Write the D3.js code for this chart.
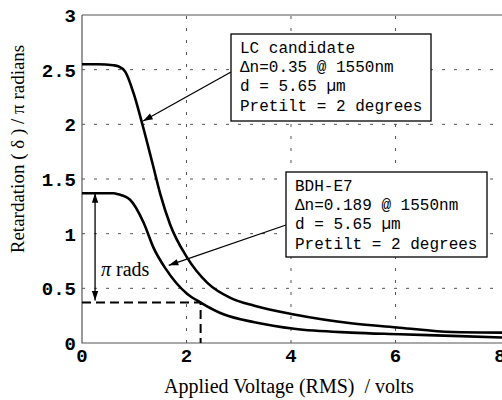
<!DOCTYPE html>
<html>
<head>
<meta charset="utf-8">
<script src="https://cdn.jsdelivr.net/npm/d3@7"></script>
<style>
  body { margin: 0; background: #fff; }
  svg { display: block; }
</style>
</head>
<body>
<svg id="chart" width="502" height="400"></svg>
<script>
'use strict';

// voltage (V rms) vs retardation (units of pi)
var lcVolts = [0, 0.3, 0.6, 0.7, 0.83, 0.99, 1.15, 1.34, 1.5, 1.69, 2.0, 2.4, 2.85, 3.3, 4.06, 5.15, 6.08, 7.08, 8.05];
var lcRetard = [2.55, 2.55, 2.54, 2.53, 2.48, 2.28, 2.01, 1.66, 1.36, 1.08, 0.79, 0.55, 0.41, 0.34, 0.26, 0.18, 0.14, 0.10, 0.095];
var e7Volts = [0, 0.3, 0.6, 0.7, 0.92, 1.18, 1.37, 1.6, 2.01, 2.27, 2.72, 3.3, 4.06, 5.15, 6.08, 7.08, 8.05];
var e7Retard = [1.37, 1.37, 1.37, 1.36, 1.31, 1.10, 0.87, 0.68, 0.45, 0.37, 0.26, 0.19, 0.13, 0.095, 0.08, 0.065, 0.05];

var xTicks = [0, 2, 4, 6, 8];
var yTicks = [0, 0.5, 1, 1.5, 2, 2.5, 3];
var gridX = [2, 4, 6];
var gridY = [0.5, 1, 1.5, 2, 2.5];

var lcLabel = ['LC candidate', '\u0394n=0.35 @ 1550nm', 'd = 5.65 \u00b5m', 'Pretilt = 2 degrees'];
var e7Label = ['BDH-E7', '\u0394n=0.189 @ 1550nm', 'd = 5.65 \u00b5m', 'Pretilt = 2 degrees'];

// pi-rads marker: from E7 plateau down to the point one pi lower
var piTop = 1.37, piBottom = 0.37, piVolt = 2.27;

var svg = d3.select('#chart');
var x = d3.scaleLinear().domain([0, 8]).range([82, 500]);
var y = d3.scaleLinear().domain([0, 3]).range([343, 15]);

var defs = svg.append('defs');
defs.append('marker')
  .attr('id', 'head')
  .attr('viewBox', '0 0 12 10')
  .attr('refX', 12).attr('refY', 5)
  .attr('markerWidth', 11).attr('markerHeight', 8)
  .attr('markerUnits', 'userSpaceOnUse')
  .attr('orient', 'auto-start-reverse')
  .append('path')
  .attr('d', 'M0,1 L12,5 L0,9 Z')
  .attr('fill', '#000');

// grid
var grid = svg.append('g').attr('stroke', '#555').attr('stroke-width', 1).attr('stroke-dasharray', '3,9');
grid.selectAll('.gy').data(gridY).enter().append('line')
  .attr('x1', x(0)).attr('x2', 502)
  .attr('y1', function(d) { return y(d); })
  .attr('y2', function(d) { return y(d); });
grid.selectAll('.gx').data(gridX).enter().append('line')
  .attr('x1', function(d) { return x(d); })
  .attr('x2', function(d) { return x(d); })
  .attr('y1', y(0)).attr('y2', y(3));

// frame
svg.append('path')
  .attr('d', 'M' + x(0) + ',' + y(3) + 'H502M' + x(0) + ',' + y(3) + 'V' + y(0) + 'H502')
  .attr('fill', 'none').attr('stroke', '#555').attr('stroke-width', 1.2);

// tick labels
var tickFont = '"Liberation Mono", "Courier New", monospace';
svg.append('g').selectAll('text').data(yTicks).enter().append('text')
  .attr('x', 76)
  .attr('y', function(d) { return y(d) + 7; })
  .attr('text-anchor', 'end')
  .style('font-family', tickFont)
  .style('font-weight', 'bold')
  .style('font-size', '19px')
  .text(function(d) { return d; });

svg.append('g').selectAll('text').data(xTicks).enter().append('text')
  .attr('x', function(d) { return x(d); })
  .attr('y', 362)
  .attr('text-anchor', 'middle')
  .style('font-family', tickFont)
  .style('font-weight', 'bold')
  .style('font-size', '19px')
  .text(function(d) { return d; });

// axis titles
var serif = '"Liberation Serif", "Times New Roman", serif';
svg.append('text')
  .attr('x', 289).attr('y', 393)
  .attr('text-anchor', 'middle')
  .style('font-family', serif)
  .style('font-size', '20px')
  .style('white-space', 'pre')
  .text('Applied Voltage (RMS)  / volts');

svg.append('text')
  .attr('transform', 'translate(24,149) rotate(-90)')
  .attr('text-anchor', 'middle')
  .style('font-family', serif)
  .style('font-size', '19px')
  .text('Retardation ( \u03b4 ) / \u03c0 radians');

// curves
var line = d3.line()
  .x(function(d) { return x(d[0]); })
  .y(function(d) { return y(d[1]); })
  .curve(d3.curveMonotoneX);

svg.append('path')
  .datum(d3.zip(lcVolts, lcRetard))
  .attr('d', line)
  .attr('fill', 'none').attr('stroke', '#000').attr('stroke-width', 2.6);

svg.append('path')
  .datum(d3.zip(e7Volts, e7Retard))
  .attr('d', line)
  .attr('fill', 'none').attr('stroke', '#000').attr('stroke-width', 2.6);

// pi rads dashed guide
svg.append('path')
  .attr('d', 'M' + x(0) + ',' + y(piBottom) + 'H' + x(piVolt) + 'V' + y(0))
  .attr('fill', 'none').attr('stroke', '#000').attr('stroke-width', 2)
  .attr('stroke-dasharray', '9,5');

svg.append('line')
  .attr('x1', x(0.25)).attr('x2', x(0.25))
  .attr('y1', y(piTop)).attr('y2', y(piBottom) - 2)
  .attr('stroke', '#000').attr('stroke-width', 1.3)
  .attr('marker-start', 'url(#head)')
  .attr('marker-end', 'url(#head)');

svg.append('text')
  .attr('x', 101).attr('y', 276)
  .style('font-family', serif)
  .style('font-size', '20px')
  .html('<tspan font-style="italic">\u03c0</tspan> rads');

// annotation boxes
function callout(label, box, from, to) {
  var g = svg.append('g');
  g.append('line')
    .attr('x1', from[0]).attr('y1', from[1])
    .attr('x2', to[0]).attr('y2', to[1])
    .attr('stroke', '#000').attr('stroke-width', 1.3)
    .attr('marker-end', 'url(#head)');
  g.append('rect')
    .attr('x', box[0]).attr('y', box[1])
    .attr('width', box[2]).attr('height', box[3])
    .attr('fill', '#fff').attr('stroke', '#000').attr('stroke-width', 1.3);
  g.selectAll('text').data(label).enter().append('text')
    .attr('x', box[0] + 9)
    .attr('y', function(d, i) { return box[1] + 19 + i * 19.2; })
    .style('font-family', tickFont)
    .style('font-size', '16px')
    .text(function(d) { return d; });
}

callout(lcLabel, [231, 34, 200, 87], [231, 72], [x(1.17), y(2.03)]);
callout(e7Label, [286, 172, 201, 85], [286, 225], [x(1.66), y(0.71)]);
</script>
</body>
</html>
